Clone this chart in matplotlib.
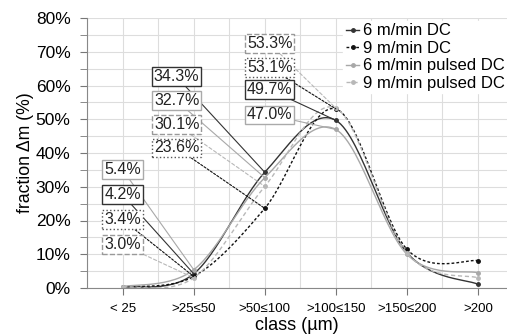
import numpy as np
import matplotlib.pyplot as plt
from matplotlib.ticker import MultipleLocator, FuncFormatter

classes = ["< 25", ">25\u226450", ">50\u2264100", ">100\u2264150", ">150\u2264200", ">200"]
dc6 = [0.2, 4.2, 34.3, 49.7, 10.5, 1.1]
dc9 = [0.3, 3.4, 23.6, 53.1, 11.5, 8.1]
pulsed6 = [0.4, 5.4, 32.7, 47.0, 10.0, 4.5]
pulsed9 = [0.3, 3.0, 30.1, 53.3, 10.3, 3.0]
names = ["6 m/min DC", "9 m/min DC", "6 m/min pulsed DC", "9 m/min pulsed DC"]

plt.rcParams['font.family'] = ['Liberation Sans', 'DejaVu Sans']


def smooth(x, y, n=30):
    # catmull-rom curve through the points, like excel's smoothed line
    x = np.asarray(x, float)
    y = np.asarray(y, float)
    px = np.concatenate([[x[0]], x, [x[-1]]])
    py = np.concatenate([[y[0]], y, [y[-1]]])
    xs, ys = [], []
    t = np.linspace(0, 1, n)
    for i in range(1, len(px) - 2):
        p0x, p1x, p2x, p3x = px[i - 1:i + 3]
        p0y, p1y, p2y, p3y = py[i - 1:i + 3]
        c1x, c1y = p1x + (p2x - p0x) / 6, p1y + (p2y - p0y) / 6
        c2x, c2y = p2x - (p3x - p1x) / 6, p2y - (p3y - p1y) / 6
        bx = (1 - t) ** 3 * p1x + 3 * (1 - t) ** 2 * t * c1x + 3 * (1 - t) * t ** 2 * c2x + t ** 3 * p2x
        by = (1 - t) ** 3 * p1y + 3 * (1 - t) ** 2 * t * c1y + 3 * (1 - t) * t ** 2 * c2y + t ** 3 * p2y
        xs.extend(bx)
        ys.extend(by)
    return np.array(xs), np.array(ys)


def main():
    fig = plt.figure(figsize=(5.07, 3.36), dpi=100)
    ax = fig.add_axes([0.172, 0.143, 0.828, 0.803])
    x = np.arange(len(classes))

    series = [dc6, dc9, pulsed6, pulsed9]
    colors = ["#333333", "#111111", "#a8a8a8", "#b8b8b8"]
    styles = ["-", (0, (2, 1.5)), "-", (0, (3, 2))]
    for vals, c, ls in zip(series, colors, styles):
        sx, sy = smooth(x, vals)
        ax.plot(sx, sy, color=c, linestyle=ls, linewidth=1.0)
        ax.plot(x, vals, linestyle="none", marker="o", markersize=2.5, color=c)

    # legend handles
    handles = [plt.Line2D([], [], color=c, linestyle=ls, linewidth=1.0, marker="o", markersize=2.5)
               for c, ls in zip(colors, styles)]
    leg = ax.legend(handles, names, loc="upper right", bbox_to_anchor=(1.0, 0.99),
                    fontsize=12, handlelength=0.8, handletextpad=0.2, labelspacing=0.15,
                    borderpad=0.15, fancybox=False, framealpha=1, edgecolor="white",
                    borderaxespad=0.0)
    leg.set_zorder(5)

    # value labels: (value, series index, class index, label x, label y)
    labels = [
        (5.4, 2, 1, 0.0, 35.0), (4.2, 0, 1, 0.0, 27.6), (3.4, 1, 1, 0.0, 20.2), (3.0, 3, 1, 0.0, 12.8),
        (34.3, 0, 2, 0.76, 62.6), (32.7, 2, 2, 0.76, 55.5), (30.1, 3, 2, 0.76, 48.4), (23.6, 1, 2, 0.76, 41.5),
        (53.3, 3, 3, 2.07, 72.4), (53.1, 1, 3, 2.07, 65.3), (49.7, 0, 3, 2.07, 58.8), (47.0, 2, 3, 2.07, 51.3),
    ]
    box_styles = ["-", ":", "-", "--"]
    box_colors = ["#333333", "#555555", "#aaaaaa", "#999999"]
    for val, si, ci, lx, ly in labels:
        ax.annotate(f"{val:.1f}%", xy=(ci, series[si][ci]), xytext=(lx, ly),
                    ha="center", va="center", fontsize=11.5, color="#222222",
                    bbox=dict(boxstyle="square,pad=0.12", fc="white", ec=box_colors[si],
                              ls=box_styles[si], lw=1.0),
                    arrowprops=dict(arrowstyle="-", color=colors[si], linestyle=styles[si],
                                    lw=0.8, shrinkA=0, shrinkB=0),
                    zorder=6)

    ax.set_xlim(-0.5, 5.41)
    ax.set_ylim(0, 80)
    ax.set_xticks(x)
    ax.set_xticklabels(classes, fontsize=9.5)
    ax.xaxis.set_minor_locator(MultipleLocator(0.5))
    ax.yaxis.set_major_locator(MultipleLocator(10))
    ax.yaxis.set_minor_locator(MultipleLocator(5))
    ax.yaxis.set_major_formatter(FuncFormatter(lambda v, p: f"{v:.0f}%"))
    ax.tick_params(axis="y", labelsize=12.5, length=5, color="#777777", which="both", pad=7)
    ax.tick_params(axis="x", length=5, color="#777777", which="major", pad=6)
    ax.tick_params(axis="x", length=0, which="minor")
    ax.grid(True, which="both", color="#dddddd", linewidth=0.8)
    ax.set_axisbelow(True)
    for s in ["top", "right"]:
        ax.spines[s].set_visible(False)
    for s in ["left", "bottom"]:
        ax.spines[s].set_color("#888888")
    ax.set_xlabel("class (\u00b5m)", fontsize=13, labelpad=1)
    ax.set_ylabel("fraction \u0394m (%)", fontsize=12.7, labelpad=1)

    fig.savefig("out.png", dpi=100)


if __name__ == "__main__":
    main()
